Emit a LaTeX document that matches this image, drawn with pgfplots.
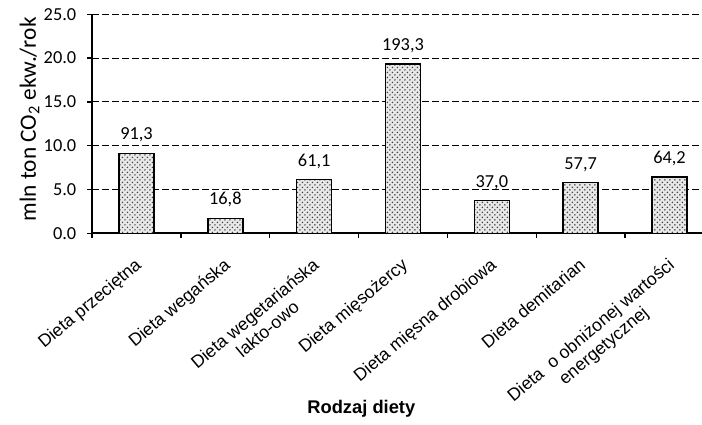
\documentclass[border=0pt]{standalone}
\usepackage{fontspec}
\setmainfont{Carlito}
\newfontfamily\arial{Liberation Sans}
\usepackage{pgfplots}
\usepackage{pgfplotstable}
\pgfplotsset{compat=1.18}
\usetikzlibrary{patterns}

\pgfplotstableread{
x y lab
0 9.13 {91,3}
1 1.68 {16,8}
2 6.11 {61,1}
3 19.33 {193,3}
4 3.70 {37,0}
5 5.77 {57,7}
6 6.42 {64,2}
}\dieta

\begin{document}
\begin{tikzpicture}
\begin{axis}[
  scale only axis,
  width=366pt, height=131.4pt,
  xmin=-0.5, xmax=6.366,
  ymin=0, ymax=25,
  axis lines*=left,
  axis line style={line width=1.2pt},
  tick align=outside,
  major tick length=3pt,
  tick style={black, line width=0.8pt},
  ytick={0,5,...,25},
  ymajorgrids,
  major grid style={black, line width=0.6pt, dash pattern=on 4pt off 2pt},
  yticklabel style={font=\fontsize{11}{13}\selectfont, xshift=-3pt},
  /pgf/number format/.cd, fixed, fixed zerofill, precision=1, assume math mode=true,
  /pgfplots/.cd,
  xtick={-0.5,0.5,...,5.5},
  xticklabels={},
  extra x ticks={0,...,6},
  extra x tick labels={Dieta przeciętna, Dieta wegańska, {Dieta wegetariańska\\lakto-owo}, Dieta mięsożercy, Dieta mięsna drobiowa, Dieta demitarian, {Dieta\ \ o obniżonej wartości\\energetycznej}},
  extra x tick style={
    major tick length=0pt,
    grid=none,
    tick label style={xshift=-1.5pt, yshift=-14pt, rotate=40, anchor=north east, align=center,
      font=\arial\fontsize{10.6}{12}\selectfont, inner sep=0pt}},
  xlabel={\arial\bfseries Rodzaj diety},
  xlabel style={at={(rel axis cs:0.4414,-0.80)}, anchor=center, font=\fontsize{11}{13}\selectfont},
  ylabel={mln ton CO\textsubscript{2} ekw./rok},
  ylabel style={at={(rel axis cs:-0.1026,0.52)}, anchor=center, font=\fontsize{14}{16}\selectfont},
  clip=false,
]
\addplot[ybar, bar width=0.394, draw=black, line width=0.8pt,
  fill=gray!18, postaction={pattern=crosshatch dots, pattern color=black!75},
  point meta=explicit symbolic,
  nodes near coords,
  nodes near coords style={font=\fontsize{11}{13}\selectfont, anchor=south, yshift=3pt}]
  table[x=x, y=y, meta=lab] {\dieta};
\coordinate (bl) at (axis cs:-1.537,-21.88);
\coordinate (tr) at (axis cs:6.366,26.63);
\end{axis}
\pgfresetboundingbox
\path (bl) rectangle (tr);
\end{tikzpicture}
\end{document}
